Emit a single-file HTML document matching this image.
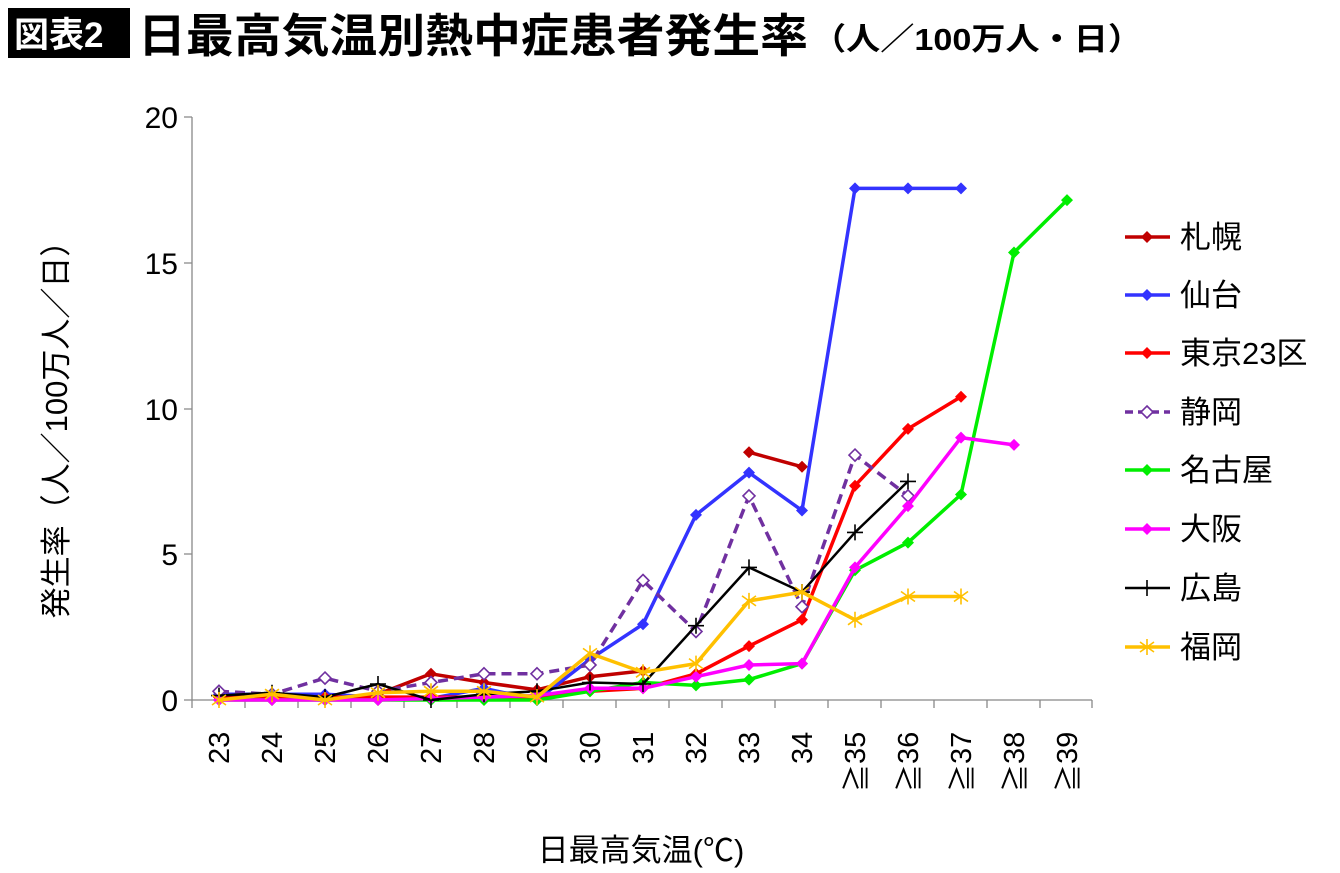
<!DOCTYPE html><html><head><meta charset="utf-8"><style>
body{margin:0;background:#fff}
svg{display:block;font-family:"Liberation Sans","Noto Sans CJK JP",sans-serif}
</style></head><body>
<svg width="1340" height="873" viewBox="0 0 1340 873">
<defs>
<marker id="dr" markerUnits="userSpaceOnUse" markerWidth="14" markerHeight="14" refX="7" refY="7"><path d="M7 1L13 7L7 13L1 7Z" fill="#c00000"/></marker>
<marker id="db" markerUnits="userSpaceOnUse" markerWidth="14" markerHeight="14" refX="7" refY="7"><path d="M7 1L13 7L7 13L1 7Z" fill="#3333ff"/></marker>
<marker id="dt" markerUnits="userSpaceOnUse" markerWidth="14" markerHeight="14" refX="7" refY="7"><path d="M7 1L13 7L7 13L1 7Z" fill="#ff0000"/></marker>
<marker id="ds" markerUnits="userSpaceOnUse" markerWidth="16" markerHeight="16" refX="8" refY="8"><path d="M8 2L14 8L8 14L2 8Z" fill="#fff" stroke="#7030a0" stroke-width="1.6"/></marker>
<marker id="dg" markerUnits="userSpaceOnUse" markerWidth="14" markerHeight="14" refX="7" refY="7"><path d="M7 1L13 7L7 13L1 7Z" fill="#00ee00"/></marker>
<marker id="dm" markerUnits="userSpaceOnUse" markerWidth="14" markerHeight="14" refX="7" refY="7"><path d="M7 1L13 7L7 13L1 7Z" fill="#ff00ff"/></marker>
<marker id="pk" markerUnits="userSpaceOnUse" markerWidth="18" markerHeight="18" refX="9" refY="9"><path d="M9 1V17M1 9H17" stroke="#000" stroke-width="1.6"/></marker>
<marker id="ay" markerUnits="userSpaceOnUse" markerWidth="18" markerHeight="18" refX="9" refY="9"><path d="M9 1V17M2 4L16 14M2 14L16 4" stroke="#ffc000" stroke-width="1.6"/></marker>
</defs>
<rect x="8" y="8" width="122" height="50" fill="#000"/>
<text x="14" y="47" font-size="35" font-weight="bold" fill="#fff">図表2</text>
<text x="138" y="52" font-size="46" font-weight="bold" textLength="670" lengthAdjust="spacingAndGlyphs">日最高気温別熱中症患者発生率</text>
<text x="812" y="50" font-size="31" font-weight="bold" textLength="330" lengthAdjust="spacingAndGlyphs">（人／100万人・日）</text>
<g stroke="#888" stroke-width="1.3" fill="none">
<path d="M192 117V700M184 117H192M184 263H192M184 409H192M184 554H192M184 700H192"/>
<path d="M192 700H1092M192 700v8M245 700v8M298 700v8M351 700v8M404 700v8M457 700v8M510 700v8M563 700v8M616 700v8M669 700v8M722 700v8M775 700v8M828 700v8M881 700v8M934 700v8M987 700v8M1040 700v8M1092 700v8"/>
</g>
<g font-size="30" text-anchor="end">
<text x="178" y="128">20</text><text x="178" y="274">15</text><text x="178" y="420">10</text><text x="178" y="565">5</text><text x="178" y="711">0</text>
</g>
<g font-size="29">
<text transform="translate(229,764) rotate(-90)">23</text>
<text transform="translate(282,764) rotate(-90)">24</text>
<text transform="translate(335,764) rotate(-90)">25</text>
<text transform="translate(388,764) rotate(-90)">26</text>
<text transform="translate(441,764) rotate(-90)">27</text>
<text transform="translate(494,764) rotate(-90)">28</text>
<text transform="translate(547,764) rotate(-90)">29</text>
<text transform="translate(600,764) rotate(-90)">30</text>
<text transform="translate(653,764) rotate(-90)">31</text>
<text transform="translate(706,764) rotate(-90)">32</text>
<text transform="translate(759,764) rotate(-90)">33</text>
<text transform="translate(812,764) rotate(-90)">34</text>
<text transform="translate(865,764) rotate(-90)">35</text>
<text transform="translate(918,764) rotate(-90)">36</text>
<text transform="translate(971,764) rotate(-90)">37</text>
<text transform="translate(1024,764) rotate(-90)">38</text>
<text transform="translate(1077,764) rotate(-90)">39</text>
</g>
<g font-size="28">
<text transform="translate(866,792) rotate(-90)">≧</text>
<text transform="translate(919,792) rotate(-90)">≧</text>
<text transform="translate(972,792) rotate(-90)">≧</text>
<text transform="translate(1025,792) rotate(-90)">≧</text>
<text transform="translate(1078,792) rotate(-90)">≧</text>
</g>
<text transform="translate(67,422) rotate(-90)" font-size="31" text-anchor="middle">発生率（人／100万人／日）</text>
<text x="641" y="861" font-size="31" text-anchor="middle">日最高気温(℃)</text>
<g fill="none" stroke-width="3.5" stroke-linejoin="round">
<polyline stroke="#c00000" marker-start="url(#dr)" marker-mid="url(#dr)" marker-end="url(#dr)" points="219,697.1 272,694.2 325,698.5 378,694.2 431,673.8 484,682.5 537,689.8 590,676.7 643,670.9"/>
<polyline stroke="#c00000" marker-start="url(#dr)" marker-end="url(#dr)" points="749,452.2 802,466.8"/>
<polyline stroke="#3333ff" marker-start="url(#db)" marker-mid="url(#db)" marker-end="url(#db)" points="219,694.2 272,694.2 325,694.2 378,697.1 431,698.5 484,688.3 537,700 590,659.2 643,624.2 696,514.9 749,472.6 802,510.5 855,188.4 908,188.4 961,188.4"/>
<polyline stroke="#ff0000" marker-start="url(#dt)" marker-mid="url(#dt)" marker-end="url(#dt)" points="219,697.1 272,697.1 325,697.1 378,697.1 431,697.1 484,697.1 537,697.1 590,691.3 643,688.3 696,673.8 749,646.1 802,619.8 855,485.7 908,428.9 961,396.8"/>
<polyline stroke="#7030a0" stroke-dasharray="10,6" marker-start="url(#ds)" marker-mid="url(#ds)" marker-end="url(#ds)" points="219,691.3 272,694.2 325,678.1 378,691.3 431,682.5 484,673.8 537,673.8 590,665 643,580.5 696,631.5 749,495.9 802,606.7 855,455.1 908,495.9"/>
<polyline stroke="#00ee00" marker-start="url(#dg)" marker-mid="url(#dg)" marker-end="url(#dg)" points="219,700 272,700 325,700 378,700 431,700 484,700 537,700 590,691.3 643,682.5 696,685.4 749,679.6 802,663.6 855,570.3 908,542.6 961,494.5 1014,252.5 1067,200.1"/>
<polyline stroke="#ff00ff" marker-start="url(#dm)" marker-mid="url(#dm)" marker-end="url(#dm)" points="219,700 272,700 325,700 378,700 431,698.5 484,697.1 537,695.6 590,688.3 643,688.3 696,676.7 749,665 802,663.6 855,567.4 908,506.1 961,437.6 1014,444.9"/>
<polyline stroke="#000" stroke-width="2.5" marker-start="url(#pk)" marker-mid="url(#pk)" marker-end="url(#pk)" points="219,695.6 272,692.7 325,697.1 378,684 431,700 484,694.2 537,691.3 590,682.5 643,684 696,625.7 749,567.4 802,592.1 855,532.4 908,481.4"/>
<polyline stroke="#ffc000" marker-start="url(#ay)" marker-mid="url(#ay)" marker-end="url(#ay)" points="219,700 272,694.2 325,700 378,692.7 431,691.3 484,691.3 537,697.1 590,653.4 643,672.3 696,663.6 749,600.9 802,592.1 855,619.8 908,596.5 961,596.5"/>
</g>
<g fill="none" stroke-width="3.5">
<path d="M1125 237H1170" stroke="#c00000"/>
<path d="M1125 295H1170" stroke="#3333ff"/><path d="M1125 353H1170" stroke="#ff0000"/>
<path d="M1125 412H1170" stroke="#7030a0" stroke-dasharray="8,5"/><path d="M1125 470H1170" stroke="#00ee00"/>
<path d="M1125 529H1170" stroke="#ff00ff"/><path d="M1125 588H1170" stroke="#000" stroke-width="2.5"/>
<path d="M1125 647H1170" stroke="#ffc000"/>
</g>
<g>
<path d="M1147 231L1153 237L1147 243L1141 237Z" fill="#c00000"/>
<path d="M1147 289L1153 295L1147 301L1141 295Z" fill="#3333ff"/>
<path d="M1147 347L1153 353L1147 359L1141 353Z" fill="#ff0000"/>
<path d="M1147 406L1153 412L1147 418L1141 412Z" fill="#fff" stroke="#7030a0" stroke-width="1.6"/>
<path d="M1147 464L1153 470L1147 476L1141 470Z" fill="#00ee00"/>
<path d="M1147 523L1153 529L1147 535L1141 529Z" fill="#ff00ff"/>
<path d="M1147 580V596M1139 588H1155" stroke="#000" stroke-width="1.6"/>
<path d="M1147 639V655M1140 642L1154 652M1140 652L1154 642" stroke="#ffc000" stroke-width="1.6"/>
</g>
<g font-size="31">
<text x="1180" y="248">札幌</text><text x="1180" y="306">仙台</text><text x="1180" y="364">東京23区</text>
<text x="1180" y="423">静岡</text><text x="1180" y="481">名古屋</text><text x="1180" y="540">大阪</text>
<text x="1180" y="599">広島</text><text x="1180" y="658">福岡</text>
</g>
</svg>
</body></html>
